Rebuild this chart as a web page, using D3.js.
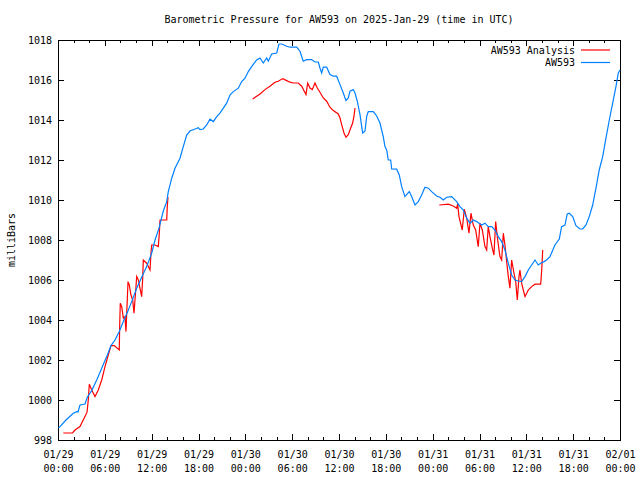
<!DOCTYPE html>
<html>
<head>
<meta charset="utf-8">
<script src="https://cdn.jsdelivr.net/npm/d3@7"></script>
<style>
  html, body { margin: 0; padding: 0; background: #fff; }
  svg { display: block; }
  text { font-family: "DejaVu Sans Mono", "Liberation Mono", monospace; font-size: 10px; fill: #000; }
</style>
</head>
<body>
<svg id="chart" width="640" height="480"></svg>
<script>
// ---------------- data ----------------
const chartTitle = "Barometric Pressure for AW593 on 2025-Jan-29 (time in UTC)";
const yLabel = "milliBars";
const seriesNames = ["AW593 Analysis", "AW593"];
const seriesColors = ["#ff0000", "#0080ff"];
const yTicks = [998, 1000, 1002, 1004, 1006, 1008, 1010, 1012, 1014, 1016, 1018];

// hours since 2025-01-29 00:00 UTC
const blueHours = [0.06,0.26,1.02,1.96,2.40,2.56,2.82,3.46,3.75,4.32,4.96,5.60,6.24,6.79,7.30,7.85,8.37,8.93,9.44,10.08,
  10.72,11.36,12.00,12.43,12.94,13.49,13.93,14.13,14.57,14.99,15.63,16.05,16.49,16.91,17.55,17.97,18.19,18.61,19.05,19.47,
  19.90,20.33,20.75,21.18,21.61,22.03,22.46,23.10,23.53,23.96,24.38,24.81,25.45,25.88,26.30,26.74,26.94,27.38,28.02,28.31,
  28.66,29.30,29.72,30.58,31.00,31.42,31.86,32.50,32.92,33.35,33.56,33.78,33.99,34.42,34.84,35.27,35.70,36.13,36.55,36.89,
  37.19,37.41,37.83,38.05,38.34,38.69,39.03,39.33,39.55,39.75,40.39,40.83,41.25,41.67,41.89,42.11,42.31,42.62,42.75,43.39,
  43.72,44.03,44.45,45.00,45.31,45.73,46.16,46.59,47.01,47.44,47.87,48.51,48.94,49.36,49.80,50.44,51.08,51.50,51.92,52.36,
  52.78,53.20,53.64,54.28,54.70,55.12,55.56,55.98,56.41,56.84,57.26,57.69,58.12,58.55,58.97,59.40,59.83,60.25,60.68,61.11,
  61.53,61.84,62.26,62.60,63.03,63.67,64.22,64.52,64.95,65.24,65.50,65.94,66.36,66.87,67.22,67.64,68.06,68.50,68.92,69.34,
  69.78,70.20,70.63,71.06,71.48,71.78,72.00];
const blueValues = [998.60,998.67,999.00,999.34,999.42,999.40,999.75,999.80,1000.14,1000.47,1001.00,1001.59,1002.17,1002.72,1003.00,1003.42,1003.92,1004.42,1004.92,1005.59,
  1006.14,1006.67,1007.34,1008.00,1008.59,1009.45,1009.92,1010.42,1011.09,1011.59,1012.09,1012.67,1013.25,1013.45,1013.55,1013.62,1013.52,1013.55,1013.75,1014.04,
  1013.92,1014.17,1014.34,1014.59,1014.84,1015.25,1015.42,1015.59,1015.92,1016.09,1016.42,1016.67,1017.00,1017.10,1016.85,1017.10,1016.94,1017.30,1017.35,1017.80,
  1017.80,1017.69,1017.64,1017.64,1017.44,1016.94,1017.02,1017.02,1016.90,1016.90,1016.60,1016.35,1016.64,1016.64,1016.27,1016.19,1016.19,1015.77,1015.35,1014.97,
  1015.10,1015.44,1015.52,1015.35,1014.94,1014.27,1013.35,1013.45,1014.19,1014.42,1014.42,1014.20,1013.85,1013.17,1012.67,1012.50,1012.00,1012.00,1011.55,1011.54,
  1011.25,1010.67,1010.17,1010.42,1010.17,1009.75,1009.92,1010.25,1010.64,1010.59,1010.42,1010.20,1010.14,1010.00,1010.14,1010.17,1009.92,1009.67,1009.50,1009.09,
  1008.84,1009.00,1008.92,1008.75,1008.84,1008.67,1008.67,1008.50,1008.17,1007.92,1007.50,1006.84,1006.25,1006.00,1005.95,1005.92,1006.17,1006.50,1006.75,1007.00,
  1006.75,1006.84,1006.92,1007.00,1007.17,1007.75,1008.05,1008.67,1008.75,1009.30,1009.34,1009.17,1008.72,1008.55,1008.55,1008.75,1009.17,1009.75,1010.59,1011.50,
  1012.17,1013.09,1014.00,1014.84,1015.67,1016.34,1016.50];

// null marks a gap in the analysis series
const redHours = [0.68,1.86,2.18,2.82,3.39,3.72,3.88,4.01,4.32,4.74,5.16,5.60,6.02,6.44,6.79,7.21,7.85,7.90,7.98,8.16,
  8.37,8.58,8.71,8.84,8.97,9.13,9.35,9.57,9.74,9.86,9.99,10.08,10.29,10.50,10.72,10.85,10.93,11.36,11.79,11.91,
  12.00,12.43,12.85,12.98,13.07,13.93,14.00,14.09,
  19.0,
  24.94,25.45,25.88,26.52,27.16,27.80,28.22,28.79,29.30,29.72,30.14,30.78,31.22,31.55,31.77,31.99,32.28,32.58,32.92,33.22,
  33.56,33.99,34.42,34.84,35.27,35.91,36.13,36.34,36.64,36.89,37.19,37.50,37.75,37.92,38.05,
  43.0,
  48.85,50.00,50.64,51.08,51.20,51.37,51.79,52.05,52.36,52.65,52.91,53.20,53.51,53.84,54.06,54.36,54.70,54.92,55.12,55.34,
  55.64,55.85,56.07,56.33,56.62,56.84,57.05,57.26,57.48,57.69,57.90,58.12,58.38,58.64,58.84,59.06,59.18,59.40,59.61,59.83,
  60.25,60.68,61.11,61.84,61.97,62.10];
const redValues = [998.35,998.35,998.50,998.67,999.13,999.39,1000.00,1000.79,1000.50,1000.17,1000.50,1001.00,1001.67,1002.25,1002.72,1002.72,1002.50,1003.67,1004.84,1004.67,
  1004.09,1004.17,1003.42,1004.67,1005.92,1005.75,1005.25,1005.00,1004.34,1005.00,1005.67,1006.17,1006.00,1005.59,1005.17,1006.09,1007.00,1006.84,1006.50,1007.34,
  1007.75,1007.75,1007.67,1008.34,1009.00,1009.00,1009.67,1010.15,
  null,
  1015.05,1015.19,1015.30,1015.52,1015.69,1015.89,1015.94,1016.07,1015.97,1015.89,1015.85,1015.85,1015.69,1015.44,1015.27,1015.85,1015.60,1015.52,1015.85,1015.60,
  1015.39,1015.10,1014.94,1014.64,1014.47,1014.30,1014.10,1013.77,1013.35,1013.14,1013.27,1013.60,1013.85,1014.19,1014.60,
  null,
  1009.75,1009.79,1009.70,1009.59,1009.80,1009.17,1008.50,1009.54,1009.09,1008.34,1009.34,1008.75,1008.50,1007.67,1008.84,1008.50,1007.67,1007.50,1008.67,1008.17,
  1007.59,1007.25,1008.92,1008.00,1007.17,1007.00,1008.34,1007.75,1006.92,1006.17,1005.59,1007.00,1006.42,1005.92,1005.00,1006.17,1006.50,1005.84,1005.50,1005.17,
  1005.50,1005.67,1005.79,1005.79,1006.50,1007.50];

// ---------------- chart ----------------
(function () {
const t0 = Date.UTC(2025, 0, 29, 0, 0);
const toDate = h => new Date(t0 + h * 3600e3);

const mL = 58, mR = 620, mT = 40, mB = 440;
const svg = d3.select("#chart");

const x = d3.scaleUtc().domain([toDate(0), toDate(72)]).range([mL, mR]);
const y = d3.scaleLinear().domain([998, 1018]).range([mB, mT]);

const fmtDay = d3.utcFormat("%m/%d"), fmtTime = d3.utcFormat("%H:%M");
const majorX = d3.utcHour.every(6).range(toDate(0), toDate(72.01));
const minorX = d3.utcHour.every(2).range(toDate(0), toDate(72.01));

// bottom axis with two-line labels
const gBottom = svg.append("g").attr("transform", `translate(0,${mB})`)
  .call(d3.axisBottom(x).tickValues(majorX).tickSizeInner(-6).tickSizeOuter(0).tickPadding(11).tickFormat(fmtDay));
gBottom.select(".domain").remove();
gBottom.selectAll(".tick text").each(function(d) {
  const t = d3.select(this);
  t.text(null);
  t.append("tspan").attr("x", 0).text(fmtDay(d));
  t.append("tspan").attr("x", 0).attr("dy", 14).text(fmtTime(d));
});
svg.append("g").attr("transform", `translate(0,${mB})`)
  .call(d3.axisBottom(x).tickValues(minorX).tickSizeInner(-3).tickSizeOuter(0).tickFormat(""))
  .call(g => g.select(".domain").remove());

// top mirrored ticks
svg.append("g").attr("transform", `translate(0,${mT})`)
  .call(d3.axisTop(x).tickValues(majorX).tickSizeInner(-6).tickSizeOuter(0).tickFormat(""))
  .call(g => g.select(".domain").remove());
svg.append("g").attr("transform", `translate(0,${mT})`)
  .call(d3.axisTop(x).tickValues(minorX).tickSizeInner(-3).tickSizeOuter(0).tickFormat(""))
  .call(g => g.select(".domain").remove());

// left axis
svg.append("g").attr("transform", `translate(${mL},0)`)
  .call(d3.axisLeft(y).tickValues(yTicks).tickSizeInner(-6).tickSizeOuter(0).tickPadding(6).tickFormat(d3.format("d")))
  .call(g => g.select(".domain").remove());
// right mirrored ticks
svg.append("g").attr("transform", `translate(${mR},0)`)
  .call(d3.axisRight(y).tickValues(yTicks).tickSizeInner(-6).tickSizeOuter(0).tickFormat(""))
  .call(g => g.select(".domain").remove());

svg.selectAll(".tick line").attr("stroke", "#000").attr("shape-rendering", "crispEdges");
svg.selectAll(".tick text").attr("font-family", null).attr("font-size", null).attr("fill", "#000");

// frame
svg.append("rect").attr("x", mL + 0.5).attr("y", mT + 0.5)
  .attr("width", mR - mL).attr("height", mB - mT)
  .attr("fill", "none").attr("stroke", "#000").attr("shape-rendering", "crispEdges");

// lines
const blueData = blueHours.map((h, i) => ({ t: toDate(h), v: blueValues[i] }));
const redData = redHours.map((h, i) => ({ t: toDate(h), v: redValues[i] }));
const line = d3.line().defined(d => d.v != null).x(d => x(d.t)).y(d => y(d.v));

svg.append("path").datum(redData).attr("d", line)
  .attr("fill", "none").attr("stroke", seriesColors[0]).attr("stroke-width", 1.2);
svg.append("path").datum(blueData).attr("d", line)
  .attr("fill", "none").attr("stroke", seriesColors[1]).attr("stroke-width", 1.2);

// title
svg.append("text").attr("x", 339).attr("y", 23).attr("text-anchor", "middle").text(chartTitle);

// y label
svg.append("text").attr("transform", "translate(15,240) rotate(-90)").attr("text-anchor", "middle").text(yLabel);

// legend
seriesNames.forEach((name, i) => {
  const ly = 50 + i * 12.5;
  svg.append("text").attr("x", 575).attr("y", ly).attr("dy", "0.35em").attr("text-anchor", "end").text(name);
  svg.append("line").attr("x1", 581).attr("x2", 610).attr("y1", ly).attr("y2", ly)
    .attr("stroke", seriesColors[i]).attr("stroke-width", 1.2);
});
})();
</script>
</body>
</html>
